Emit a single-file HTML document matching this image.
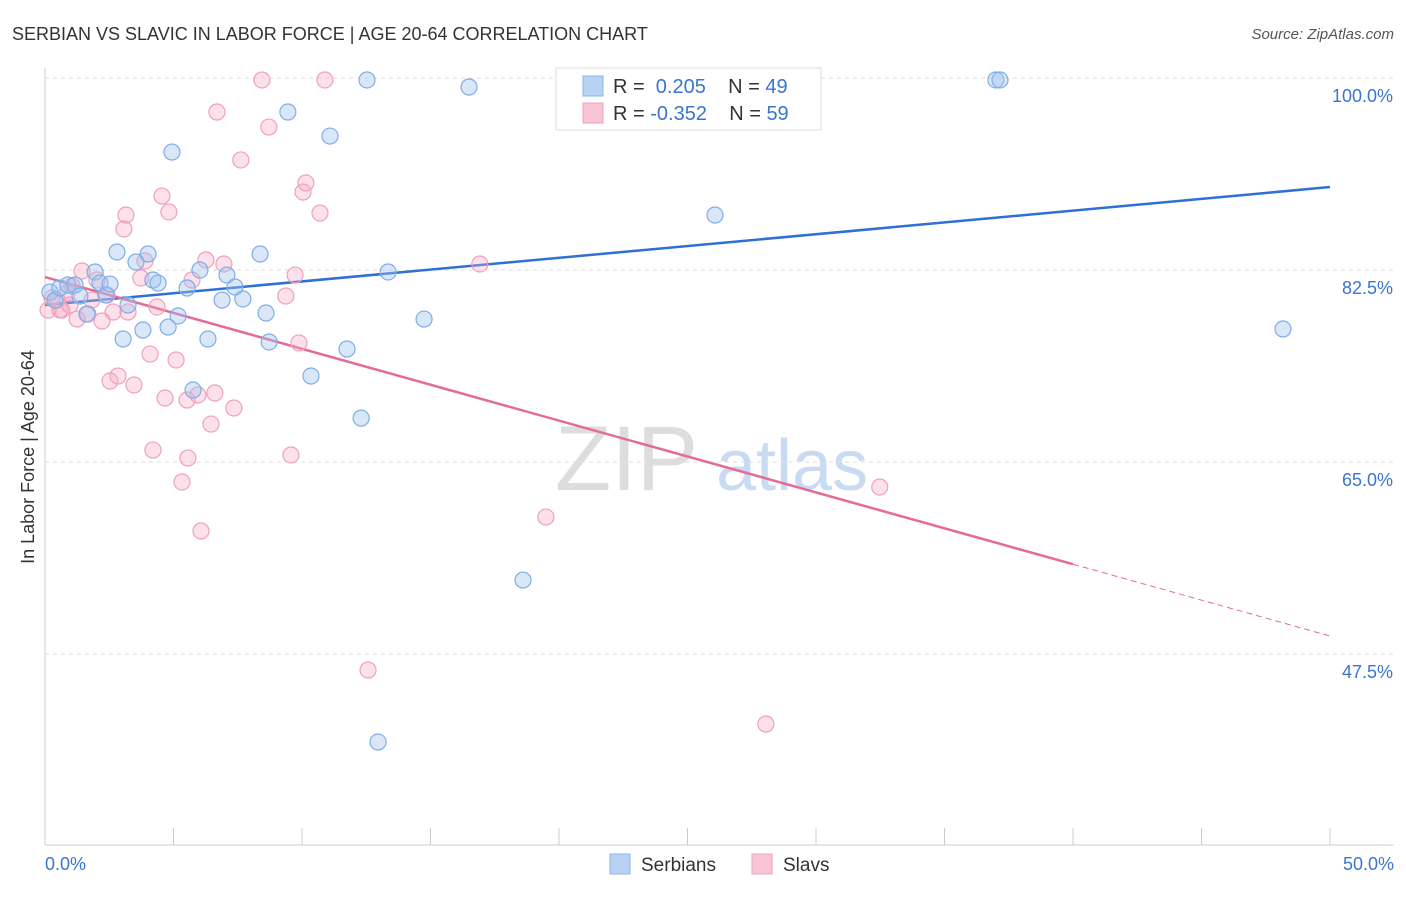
<!DOCTYPE html>
<html><head><meta charset="utf-8"><style>
body{margin:0;background:#fff;font-family:"Liberation Sans",sans-serif;}
svg text{font-family:"Liberation Sans",sans-serif;}
</style></head><body>
<svg id="chart" width="1406" height="892" xmlns="http://www.w3.org/2000/svg">
<text x="12" y="40" font-size="18" fill="#333">SERBIAN VS SLAVIC IN LABOR FORCE | AGE 20-64 CORRELATION CHART</text>
<text x="1394" y="39" font-size="15" fill="#555" font-style="italic" text-anchor="end">Source: ZipAtlas.com</text>
<text transform="translate(34,457) rotate(-90)" font-size="18" fill="#333" text-anchor="middle">In Labor Force | Age 20-64</text>
<g>
<text x="555" y="490" font-size="92" fill="#ddd" font-family="Liberation Serif,serif">ZIP</text>
<text x="716" y="490" font-size="72" fill="#c9dbf2">atlas</text>
</g>
<g id="grid"></g><g id="axes"></g><g id="lines"></g><g id="pts"></g>
<g>
<rect x="556" y="68" width="265" height="62" fill="#fff" stroke="#ddd"/>
<rect x="583" y="76" width="20" height="20" fill="#b8d2f4" stroke="#8ab4e8"/>
<text x="613" y="93" font-size="20" fill="#333">R = <tspan fill="#3a75d0">&#160;0.205</tspan>&#160;&#160;&#160;&#160;N = <tspan fill="#3a75d0">49</tspan></text>
<rect x="583" y="103" width="20" height="20" fill="#f8c4d6" stroke="#f0a0bf"/>
<text x="613" y="120" font-size="20" fill="#333">R = <tspan fill="#3a75d0">-0.352</tspan>&#160;&#160;&#160;&#160;N = <tspan fill="#3a75d0">59</tspan></text>
</g>
<g>
<rect x="610" y="854" width="20" height="20" fill="#b8d2f4" stroke="#8ab4e8"/>
<text x="641" y="871" font-size="19" fill="#333">Serbians</text>
<rect x="752" y="854" width="20" height="20" fill="#f8c4d6" stroke="#f0a0bf"/>
<text x="783" y="871" font-size="19" fill="#333">Slavs</text>
</g>
</svg>
<script>
const yTicks=[100,82.5,65,47.5];
const xTickLabels=["0.0%","50.0%"];
const serbX=[0.19,0.39,0.58,0.89,1.17,1.36,1.63,1.95,2.14,2.37,2.53,2.80,3.04,3.23,3.54,3.81,4.01,4.20,4.40,4.79,4.94,5.18,5.53,5.76,6.03,6.34,6.89,7.08,7.39,7.70,8.37,8.60,8.72,9.45,10.35,11.09,11.75,12.30,12.53,12.96,13.35,14.75,16.50,18.60,20.58,26.07,37.0,37.16,48.17];
const serbY=[80.49,79.76,80.86,81.13,81.13,80.13,78.49,82.32,81.31,80.22,81.22,84.14,76.21,79.31,83.23,77.03,83.96,81.59,81.31,77.30,93.25,78.31,80.86,71.56,82.50,76.21,79.76,82.04,80.95,79.86,83.96,78.58,75.94,96.9,72.84,94.71,75.30,69.0,99.82,39.48,82.32,78.03,99.18,54.24,99.82,87.51,99.82,99.82,77.12];
const slavX=[0.12,0.27,0.47,0.66,0.86,1.05,1.25,1.44,1.67,1.83,2.02,2.22,2.41,2.53,2.65,2.84,3.07,3.15,3.23,3.46,3.73,3.89,4.09,4.20,4.36,4.55,4.67,4.82,5.10,5.33,5.53,5.56,5.72,5.95,6.07,6.26,6.46,6.61,6.69,6.96,7.35,7.62,8.44,8.71,9.37,9.57,9.73,9.88,10.04,10.15,10.70,10.89,12.57,16.92,19.49,28.05,32.48,0.58,0.97];
const slavY=[78.85,79.95,79.76,78.85,80.40,81.04,78.03,82.41,78.49,79.76,81.59,77.85,80.22,72.38,78.67,72.84,86.24,87.51,78.67,72.02,81.77,83.32,74.84,66.09,79.13,89.24,70.83,87.79,74.30,63.18,70.65,65.36,81.59,71.11,58.71,83.41,68.46,71.29,96.9,83.05,69.92,92.53,99.82,95.53,80.13,65.64,82.04,75.85,89.61,90.43,87.69,99.82,46.04,83.05,59.98,41.12,62.72,78.85,79.31];
const serbTrend=[79.31,90.06];
const slavTrend=[81.86,49.14];
const slavSolidEnd=40;
const X=v=>45+v*(1285/50), Y=v=>78+(100-v)*(192/17.5);
const NS="http://www.w3.org/2000/svg";
function mk(t,a,p){const e=document.createElementNS(NS,t);for(const k in a)e.setAttribute(k,a[k]);document.getElementById(p).appendChild(e);return e;}
yTicks.forEach(t=>{
 const l=mk('line',{x1:45,x2:1394,y1:Y(t),y2:Y(t),stroke:'#ddd','stroke-dasharray':'4,4'},'grid');
 
 
 const tx=mk('text',{x:1393,y:Y(t)+24,'font-size':18,fill:'#3a75d0','text-anchor':'end'},'axes');
 tx.textContent=t.toFixed(1)+'%';
 
 
});
let a=mk('line',{x1:45,x2:45,y1:68,y2:845,stroke:'#ccc'},'axes');


a=mk('line',{x1:45,x2:1394,y1:845,y2:845,stroke:'#ccc'},'axes');


for(let i=0;i<=10;i++){const t=mk('line',{x1:X(i*5),x2:X(i*5),y1:828,y2:845,stroke:'#ccc'},'axes');
 
 }
[[0,'start',45],[50,'end',1394]].forEach((d,i)=>{const t=mk('text',{x:d[2],y:870,'font-size':18,fill:'#3a75d0','text-anchor':d[1]},'axes');t.textContent=xTickLabels[i];
 
 });
function pts(xs,ys,f,s,n){xs.forEach((x,i)=>{const c=mk('circle',{cx:X(x),cy:Y(ys[i]),r:8,fill:f,stroke:s,'stroke-width':1.2},'pts');
 
 });}
pts(slavX,slavY,'rgba(245,165,195,0.35)','#f0a0bf','slav-point');
pts(serbX,serbY,'rgba(160,196,240,0.4)','#7eaee6','serbian-point');
let l=mk('line',{x1:X(0),y1:Y(serbTrend[0]),x2:X(50),y2:Y(serbTrend[1]),stroke:'#2f6fd6','stroke-width':2.5},'lines');


const sv=v=>slavTrend[0]+(slavTrend[1]-slavTrend[0])*v/50;
l=mk('line',{x1:X(0),y1:Y(sv(0)),x2:X(slavSolidEnd),y2:Y(sv(slavSolidEnd)),stroke:'#e56b97','stroke-width':2.5},'lines');


l=mk('line',{x1:X(slavSolidEnd),y1:Y(sv(slavSolidEnd)),x2:X(50),y2:Y(sv(50)),stroke:'#e56b97','stroke-width':1,'stroke-dasharray':'6,4'},'lines');


</script>
</body></html>
